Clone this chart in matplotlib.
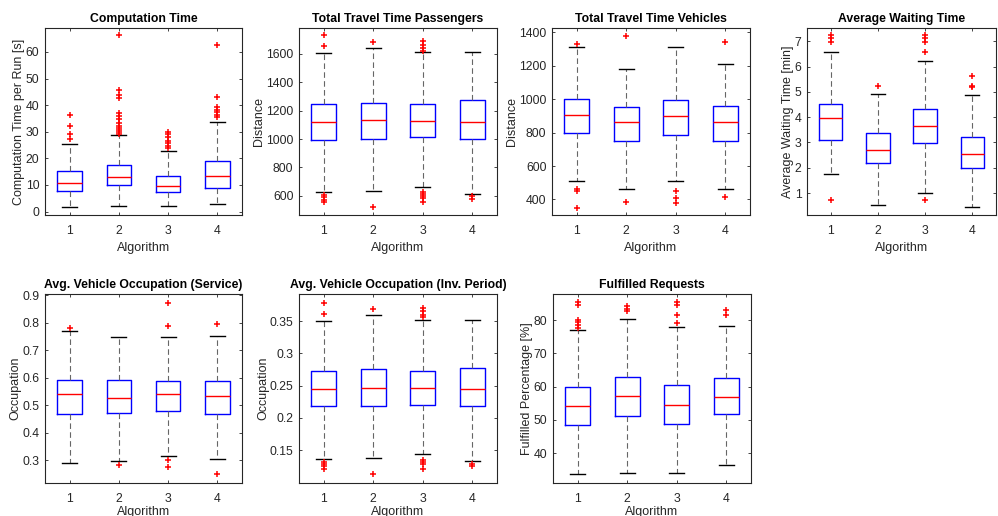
import numpy as np
import matplotlib.pyplot as plt

plt.rcParams['font.family'] = ['Liberation Sans', 'DejaVu Sans']

algorithms = [1, 2, 3, 4]

# --- Computation Time ---
ct_med = [10.6, 12.9, 9.5, 13.5]
ct_q1 = [7.9, 9.9, 7.25, 8.75]
ct_q3 = [15.1, 17.6, 13.5, 18.9]
ct_lo = [1.6, 2.0, 2.25, 2.9]
ct_hi = [25.4, 28.6, 22.9, 33.75]
ct_out = [[36.4, 32.1, 29.1, 27.3],
          [66.2, 45.75, 43.75, 42.6, 37.0, 36.0, 34.75, 33.25, 32.25, 31.25, 30.5, 29.75, 29.1],
          [30.0, 29.1, 28.0, 26.6, 25.75, 24.75, 23.9],
          [62.5, 43.1, 39.4, 38.25, 37.25, 36.4, 35.4]]

# --- Total Travel Time Passengers ---
tp_med = [1122, 1134, 1127, 1122]
tp_q1 = [996, 998, 1012, 1003]
tp_q3 = [1249, 1256, 1249, 1272]
tp_lo = [623, 630, 659, 614]
tp_hi = [1607, 1642, 1612, 1612]
tp_out = [[1731, 1654, 605, 588, 570, 553],
          [1682, 518],
          [1690, 1665, 1645, 1622, 628, 612, 595, 581, 553],
          [595, 577]]

# --- Total Travel Time Vehicles ---
tv_med = [907, 865, 901, 863]
tv_q1 = [796, 752, 784, 752]
tv_q3 = [1002, 955, 998, 957]
tv_lo = [509, 460, 509, 460]
tv_hi = [1312, 1181, 1314, 1213]
tv_out = [[1332, 462, 452, 350],
          [1380, 382],
          [448, 406, 378],
          [1342, 414]]

# --- Average Waiting Time ---
wt_med = [3.95, 2.72, 3.65, 2.54]
wt_q1 = [3.11, 2.18, 2.97, 2.0]
wt_q3 = [4.52, 3.36, 4.34, 3.22]
wt_lo = [1.75, 0.53, 1.01, 0.45]
wt_hi = [6.58, 4.9, 6.21, 4.87]
wt_out = [[7.25, 7.13, 6.97, 0.72],
          [5.25],
          [7.25, 7.13, 6.97, 6.57, 0.72],
          [5.62, 5.25, 5.2]]

# --- Avg. Vehicle Occupation (Service) ---
os_med = [0.540, 0.528, 0.540, 0.533]
os_q1 = [0.470, 0.471, 0.478, 0.467]
os_q3 = [0.593, 0.593, 0.590, 0.589]
os_lo = [0.290, 0.298, 0.317, 0.307]
os_hi = [0.771, 0.748, 0.749, 0.751]
os_out = [[0.78],
          [0.282],
          [0.872, 0.787, 0.30, 0.275],
          [0.796, 0.251]]

# --- Avg. Vehicle Occupation (Inv. Period) ---
oi_med = [0.245, 0.247, 0.246, 0.245]
oi_q1 = [0.218, 0.218, 0.220, 0.219]
oi_q3 = [0.273, 0.275, 0.273, 0.277]
oi_lo = [0.136, 0.137, 0.144, 0.1335]
oi_hi = [0.350, 0.359, 0.352, 0.352]
oi_out = [[0.378, 0.361, 0.132, 0.129, 0.125, 0.121],
          [0.368, 0.113],
          [0.370, 0.365, 0.360, 0.356, 0.135, 0.1315, 0.128, 0.120],
          [0.129, 0.125]]

# --- Fulfilled Requests ---
fr_med = [54.1, 57.1, 54.4, 57.0]
fr_q1 = [48.6, 51.3, 48.8, 51.8]
fr_q3 = [60.0, 62.8, 60.4, 62.6]
fr_lo = [33.7, 34.0, 34.0, 36.4]
fr_hi = [77.1, 80.3, 77.9, 78.2]
fr_out = [[85.5, 84.7, 80.2, 79.4, 78.6, 77.7],
          [84.2, 83.5, 82.7],
          [85.5, 84.7, 81.5, 79.2],
          [83.0, 81.5]]

panels = [
    ("Computation Time", "Computation Time per Run [s]",
     ct_med, ct_q1, ct_q3, ct_lo, ct_hi, ct_out, (-1.3, 69), np.arange(0, 61, 10)),
    ("Total Travel Time Passengers", "Distance",
     tp_med, tp_q1, tp_q3, tp_lo, tp_hi, tp_out, (464, 1783), np.arange(600, 1601, 200)),
    ("Total Travel Time Vehicles", "Distance",
     tv_med, tv_q1, tv_q3, tv_lo, tv_hi, tv_out, (307, 1426), np.arange(400, 1401, 200)),
    ("Average Waiting Time", "Average Waiting Time [min]",
     wt_med, wt_q1, wt_q3, wt_lo, wt_hi, wt_out, (0.13, 7.53), np.arange(1, 8, 1)),
    ("Avg. Vehicle Occupation (Service)", "Occupation",
     os_med, os_q1, os_q3, os_lo, os_hi, os_out, (0.218, 0.905), [0.3, 0.4, 0.5, 0.6, 0.7, 0.8, 0.9]),
    ("Avg. Vehicle Occupation (Inv. Period)", "Occupation",
     oi_med, oi_q1, oi_q3, oi_lo, oi_hi, oi_out, (0.099, 0.392), [0.15, 0.2, 0.25, 0.3, 0.35]),
    ("Fulfilled Requests", "Fulfilled Percentage [%]",
     fr_med, fr_q1, fr_q3, fr_lo, fr_hi, fr_out, (31.0, 87.9), np.arange(40, 81, 10)),
]

W, H = 998, 516
# axes boxes in pixels: left, top, right, bottom
boxes = [(45, 28, 242, 215), (299, 28, 497, 215), (552, 28, 750, 215), (807, 28, 996, 215),
         (45, 294, 242, 483), (299, 294, 497, 483), (553, 294, 751, 483)]

fig = plt.figure(figsize=(W / 100, H / 100), dpi=100)
txt = '0.15'

for k, ((title, ylabel, med, q1, q3, lo, hi, out, ylim, yt), (l, t, r, b)) in enumerate(zip(panels, boxes)):
    ax = fig.add_axes([l / W, 1 - b / H, (r - l) / W, (b - t) / H])
    stats = []
    for i in range(4):
        stats.append(dict(med=med[i], q1=q1[i], q3=q3[i], whislo=lo[i], whishi=hi[i],
                          fliers=out[i], label=str(algorithms[i])))
    ax.bxp(stats, positions=algorithms, widths=0.5, capwidths=0.3,
           boxprops=dict(color='blue', lw=1.0),
           medianprops=dict(color='red', lw=1.0),
           whiskerprops=dict(color='0.4', lw=0.8, linestyle=(0, (5, 3))),
           capprops=dict(color='black', lw=1.0),
           flierprops=dict(marker='+', markeredgecolor='red', markersize=4.5, markeredgewidth=1.1))
    ax.set_xlim(0.5, 4.5)
    ax.set_ylim(*ylim)
    ax.set_yticks(yt)
    ax.set_yticklabels(['%g' % v for v in yt])
    ax.set_xticks(algorithms)
    ax.set_xticklabels([str(a) for a in algorithms])
    ax.tick_params(direction='in', top=True, right=True, length=2.5, width=0.6,
                   labelsize=8.8, colors=txt)
    ax.tick_params(axis='x', pad=7)
    ax.tick_params(axis='y', pad=4)
    for s in ax.spines.values():
        s.set_color('0.15')
        s.set_linewidth(0.8)
    ax.set_title(title, fontsize=8.8, fontweight='bold', pad=4)
    # bottom row: keep the label inside the figure
    ax.set_xlabel("Algorithm", fontsize=9, color=txt, labelpad=3.5 if k < 4 else 0.8)
    ax.set_ylabel(ylabel, fontsize=9, color=txt, labelpad=0.5)

fig.savefig("out.png", dpi=100)
